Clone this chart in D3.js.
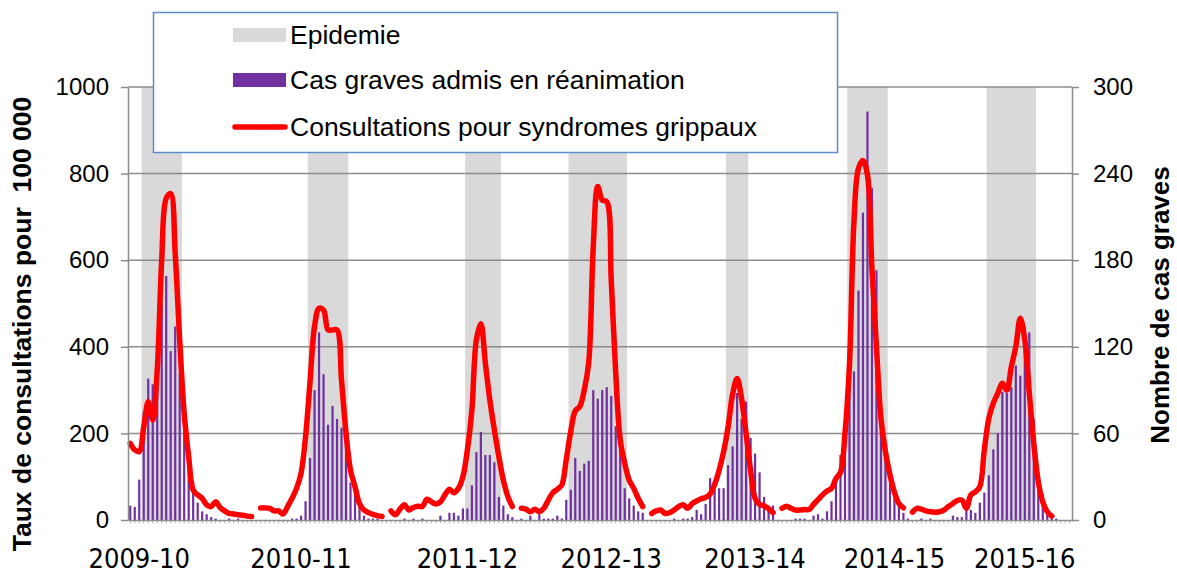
<!DOCTYPE html>
<html>
<head>
<meta charset="utf-8">
<script src="https://cdn.jsdelivr.net/npm/d3@7"></script>
<style>
  body { margin: 0; background: #fff; }
  text { font-family: "Liberation Sans", Arial, sans-serif; }
</style>
</head>
<body>
<div id="chart-container"></div>
<script>
// x labels (one per season) and the week index they sit on
const seasonLabels = ['2009-10', '2010-11', '2011-12', '2012-13', '2013-14', '2014-15', '2015-16'];
const seasonLabelWeek = [2, 38, 75, 107, 139, 170, 199];

// epidemic periods, first and last week index (inclusive)
const epidemicStart = [3, 40, 75, 98, 133, 160, 191];
const epidemicEnd = [11, 48, 82, 110, 137, 168, 201];

// severe cases admitted in ICU, per week (right axis)
const cases = [
  10, 9, 28, 75, 98, 94, 100, 150, 169, 117,
  134, 101, 62, 42, 27, 12, 6, 4, 2, 1,
  0, 0, 1, 0, 1, 0, 0, 0, 0, 0,
  0, 0, 0, 0, 0, 0, 1, 1, 3, 13,
  43, 90, 130, 101, 66, 79, 70, 64, 50, 26,
  19, 10, 3, 1, 1, 1, 0, 0, 0, 0,
  0, 1, 0, 1, 0, 1, 0, 0, 0, 3,
  0, 5, 5, 3, 8, 8, 24, 47, 61, 45,
  45, 40, 16, 10, 4, 2, 0, 1, 0, 3,
  0, 4, 1, 1, 1, 3, 1, 14, 21, 43,
  34, 39, 41, 90, 84, 90, 92, 86, 65, 51,
  22, 15, 10, 6, 5, 0, 0, 0, 0, 0,
  0, 1, 0, 1, 1, 2, 7, 4, 11, 29,
  22, 22, 22, 38, 51, 88, 70, 82, 57, 46,
  33, 16, 10, 10, 0, 0, 0, 0, 1, 1,
  1, 0, 3, 4, 1, 6, 13, 30, 45, 57,
  94, 103, 159, 213, 283, 230, 173, 75, 45, 30,
  22, 14, 5, 1, 0, 0, 1, 0, 1, 0,
  0, 0, 0, 3, 2, 2, 7, 7, 5, 12,
  19, 31, 49, 60, 89, 88, 92, 107, 100, 134,
  130, 70, 33, 18, 6, 3, 1, 0, 0, 0
];

// ILI consultations per 100 000, per week (left axis), null = no data
const consultations = [
  177, 162, 158, 215, 273, 231, 346, 600, 743, 754,
  616, 416, 246, 146, 69, 58, 50, 35, 31, 42,
  29, 21, 15, 14, 12, 11, 9, 8, null, 28,
  28, 27, 21, 21, 14, 31, 50, 73, 108, 192,
  320, 447, 489, 485, 439, 439, 439, 323, 200, 115,
  77, 38, 23, 17, 13, 10, 8, null, 21, 12,
  25, 35, 23, 29, 32, 31, 48, 42, 37, 42,
  58, 71, 63, 73, 100, 162, 254, 416, 453, 362,
  277, 208, 146, 92, 54, 31, null, 27, 25, 19,
  25, 19, 27, 46, 63, 71, 81, 140, 205, 252,
  262, 300, 365, 631, 770, 739, 735, 554, 339, 185,
  131, 92, 73, 50, 31, null, 15, 21, 23, 15,
  17, 23, 31, 35, 27, 38, 44, 49, 52, 60,
  82, 115, 158, 215, 290, 327, 280, 200, 115, 50,
  36, 33, 26, 17, null, 27, 32, 27, 23, 23,
  24, 24, 36, 47, 58, 67, 73, 96, 110, 200,
  360, 690, 812, 830, 797, 580, 400, 235, 158, 105,
  64, 38, 28, null, 18, 27, 25, 21, 19, 18,
  19, 23, 31, 38, 45, 46, 27, 58, 65, 77,
  162, 235, 270, 293, 316, 300, 354, 400, 466, 416,
  293, 177, 88, 42, 19, 9, null, null, null, null
];

const leftTicks = [0, 200, 400, 600, 800, 1000];
const rightTicks = [0, 60, 120, 180, 240, 300];

const legendItems = ['Epidemie', 'Cas graves admis en réanimation', 'Consultations pour syndromes grippaux'];

const width = 1177, height = 574;
const plot = { left: 128, right: 1072, top: 87, bottom: 520 };
const colors = { band: '#d9d9d9', bar: '#7030a0', line: '#ff0000', grid: '#8c8c8c', legend: '#5b8ccc' };

const svg = d3.select('#chart-container').append('svg')
  .attr('width', width)
  .attr('height', height);

const weeks = d3.range(cases.length);
const x = d3.scaleBand()
  .domain(weeks)
  .range([plot.left, plot.right]);
const yLeft = d3.scaleLinear().domain([0, 1000]).range([plot.bottom, plot.top]);
const yRight = d3.scaleLinear().domain([0, 300]).range([plot.bottom, plot.top]);
const cx = i => x(i) + x.bandwidth() / 2;

// epidemic bands
svg.append('g').selectAll('rect')
  .data(epidemicStart)
  .enter().append('rect')
  .attr('x', (s) => x(s))
  .attr('width', (s, i) => x(epidemicEnd[i]) + x.bandwidth() - x(s))
  .attr('y', plot.top)
  .attr('height', plot.bottom - plot.top)
  .attr('fill', colors.band);

// horizontal grid
svg.append('g').selectAll('line')
  .data(leftTicks.slice(1))
  .enter().append('line')
  .attr('x1', plot.left).attr('x2', plot.right)
  .attr('y1', d => yLeft(d)).attr('y2', d => yLeft(d))
  .attr('stroke', colors.grid)
  .attr('stroke-width', 1.5);

// bars
const barW = 2.2;
svg.append('g').selectAll('rect')
  .data(weeks.filter(i => cases[i] > 0))
  .enter().append('rect')
  .attr('x', i => cx(i) - barW / 2)
  .attr('width', barW)
  .attr('y', i => yRight(cases[i]))
  .attr('height', i => plot.bottom - yRight(cases[i]))
  .attr('fill', colors.bar);

// consultations line
const line = d3.line()
  .defined(i => consultations[i] !== null)
  .x(i => cx(i))
  .y(i => yLeft(consultations[i]))
  .curve(d3.curveCatmullRom.alpha(0.5));

svg.append('path')
  .attr('d', line(weeks))
  .attr('fill', 'none')
  .attr('stroke', colors.line)
  .attr('stroke-width', 5.5)
  .attr('stroke-linejoin', 'round')
  .attr('stroke-linecap', 'round');

// axes
const styleAxis = g => {
  g.select('.domain').attr('stroke', colors.grid).attr('stroke-width', 1.5);
  g.selectAll('.tick line').attr('stroke', colors.grid).attr('stroke-width', 1.5);
  g.selectAll('.tick text').attr('fill', '#000').attr('font-size', 24)
    .attr('font-family', '"Liberation Sans", Arial, sans-serif');
};

svg.append('g')
  .attr('transform', 'translate(' + plot.left + ',0)')
  .call(d3.axisLeft(yLeft).tickValues(leftTicks).tickFormat(d3.format('d'))
    .tickSize(7).tickSizeOuter(0).tickPadding(12))
  .call(styleAxis);

svg.append('g')
  .attr('transform', 'translate(' + plot.right + ',0)')
  .call(d3.axisRight(yRight).tickValues(rightTicks).tickSize(7).tickSizeOuter(0).tickPadding(14))
  .call(styleAxis);

const xAxis = svg.append('g')
  .attr('transform', 'translate(0,' + plot.bottom + ')')
  .call(d3.axisBottom(x).tickValues(weeks).tickSize(3).tickSizeOuter(0).tickFormat(''))
  .call(styleAxis);
xAxis.selectAll('.tick line').attr('stroke-width', 0.8);

svg.append('g').selectAll('text')
  .data(seasonLabels)
  .enter().append('text')
  .attr('x', (d, i) => cx(seasonLabelWeek[i]))
  .attr('y', 568)
  .attr('text-anchor', 'middle')
  .attr('font-size', 27)
  .style('font-family', '"Liberation Sans Narrow", "DejaVu Sans Condensed", sans-serif')
  .text(d => d);

// axis titles
svg.append('text')
  .attr('transform', 'translate(31,' + 324 + ') rotate(-90)')
  .attr('text-anchor', 'middle')
  .attr('font-size', 26.5)
  .attr('font-weight', 'bold')
  .style('white-space', 'pre')
  .text('Taux de consultations pour  100 000');

svg.append('text')
  .attr('transform', 'translate(1169,' + 305 + ') rotate(-90)')
  .attr('text-anchor', 'middle')
  .attr('font-size', 26)
  .attr('font-weight', 'bold')
  .text('Nombre de cas graves');

// legend
const legend = svg.append('g');
legend.append('rect')
  .attr('x', 153.5).attr('y', 12.5)
  .attr('width', 684).attr('height', 140)
  .attr('fill', '#fff')
  .attr('stroke', colors.legend)
  .attr('stroke-width', 1.5);

const legendY = [35, 80, 127];
legend.append('rect')
  .attr('x', 233).attr('y', legendY[0] - 7).attr('width', 53).attr('height', 14)
  .attr('fill', colors.band);
legend.append('rect')
  .attr('x', 233).attr('y', legendY[1] - 7).attr('width', 53).attr('height', 14)
  .attr('fill', colors.bar);
legend.append('line')
  .attr('x1', 235).attr('x2', 285)
  .attr('y1', legendY[2]).attr('y2', legendY[2])
  .attr('stroke', colors.line)
  .attr('stroke-width', 5.5)
  .attr('stroke-linecap', 'round');

legend.selectAll('text.item')
  .data(legendItems)
  .enter().append('text')
  .attr('class', 'item')
  .attr('x', 290)
  .attr('y', (d, i) => legendY[i])
  .attr('dy', '0.35em')
  .attr('font-size', 26.5)
  .text(d => d);
</script>
</body>
</html>
